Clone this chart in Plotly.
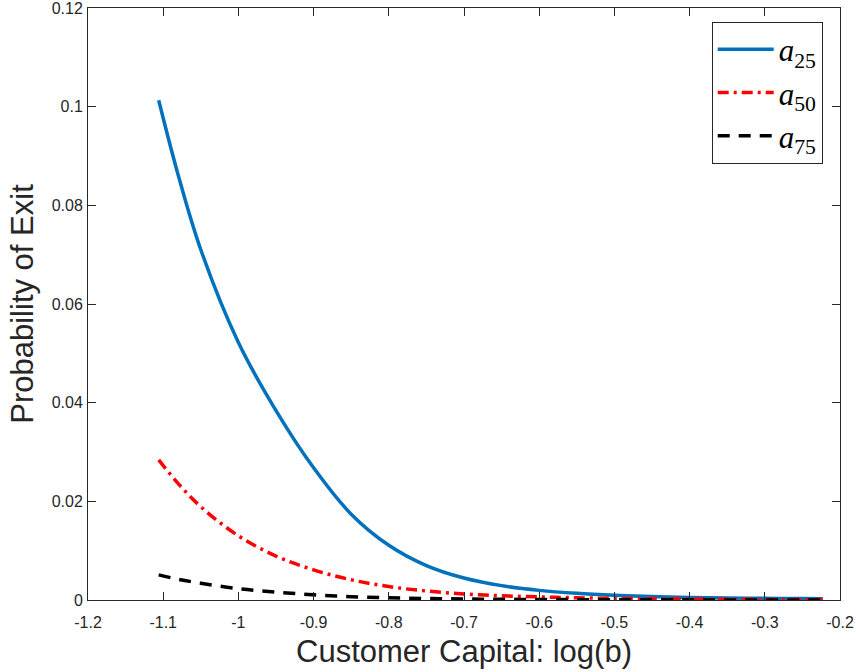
import plotly.graph_objects as go

# Customer capital grid (log b) and exit probabilities for each productivity level
log_b = [-1.106, -1.08, -1.05, -1.0, -0.95, -0.9, -0.85, -0.8, -0.75, -0.7,
         -0.65, -0.6, -0.55, -0.5, -0.45, -0.4, -0.35, -0.3, -0.25, -0.223]

exit_a25 = [0.1013, 0.0861, 0.0710, 0.0522, 0.0384, 0.0268, 0.0174, 0.0111, 0.00698, 0.00445,
            0.00291, 0.00195, 0.00135, 0.00096, 0.00070, 0.00053, 0.00041, 0.00033, 0.00028, 0.00025]
exit_a50 = [0.0284, 0.0236, 0.0189, 0.0130, 0.0089, 0.0061, 0.0041, 0.00272, 0.00182, 0.00124,
            0.00087, 0.00062, 0.00045, 0.00033, 0.00025, 0.00019, 0.00015, 0.00012, 0.00010, 0.00009]
exit_a75 = [0.0051, 0.0042, 0.0034, 0.0023, 0.0016, 0.00105, 0.00068, 0.00045, 0.00030, 0.000205,
            0.000143, 0.00010, 0.00007, 0.00005, 0.00004, 0.00003, 0.00002, 0.00002, 0.00001, 0.00001]

x_ticks = [-1.2, -1.1, -1.0, -0.9, -0.8, -0.7, -0.6, -0.5, -0.4, -0.3, -0.2]
x_tick_text = ["-1.2", "-1.1", "-1", "-0.9", "-0.8", "-0.7", "-0.6", "-0.5", "-0.4", "-0.3", "-0.2"]
y_ticks = [0, 0.02, 0.04, 0.06, 0.08, 0.1, 0.12]
y_tick_text = ["0", "0.02", "0.04", "0.06", "0.08", "0.1", "0.12"]

AX = "#262626"
SANS = "Liberation Sans, Arial, Helvetica, sans-serif"
SERIF = "Liberation Serif, Times New Roman, serif"

fig = go.Figure()
fig.add_trace(go.Scatter(
    x=log_b, y=exit_a25, mode="lines", line_shape="spline",
    name="<i>a</i><sub>25</sub>", legendgroup="a25",
    line=dict(color="#0072BD", width=3.5)))
fig.add_trace(go.Scatter(
    x=log_b, y=exit_a50, mode="lines", line_shape="spline",
    name="<i>a</i><sub>50</sub>", legendgroup="a50",
    line=dict(color="#FF0000", width=3.5, dash="11px,5px,3px,5px")))
fig.add_trace(go.Scatter(
    x=log_b, y=exit_a75, mode="lines", line_shape="spline",
    name="<i>a</i><sub>75</sub>", legendgroup="a75",
    line=dict(color="#000000", width=3.5, dash="12px,9px")))

axis_common = dict(
    showgrid=False, zeroline=False, showline=True, linecolor=AX, linewidth=1,
    mirror="ticks", ticks="inside", ticklen=8, tickcolor=AX, tickwidth=1,
    tickfont=dict(family=SANS, size=16, color=AX), automargin=False,
    ticklabeloverflow="allow")

fig.update_layout(
    width=856, height=672,
    margin=dict(l=88, r=16, t=8, b=72),
    paper_bgcolor="white", plot_bgcolor="white",
    xaxis=dict(range=[-1.2, -0.2], tickmode="array", tickvals=x_ticks, ticktext=x_tick_text,
               ticklabelstandoff=8,
               title=dict(text="Customer Capital: log(b)", standoff=10,
                          font=dict(family=SANS, size=31, color=AX)),
               **axis_common),
    yaxis=dict(range=[0, 0.12], tickmode="array", tickvals=y_ticks, ticktext=y_tick_text,
               ticklabelstandoff=1,
               title=dict(text="Probability of Exit", standoff=8,
                          font=dict(family=SANS, size=31, color=AX)),
               **axis_common),
    legend=dict(x=0.977, y=0.977, xanchor="right", yanchor="top",
                bgcolor="white", bordercolor=AX, borderwidth=1,
                font=dict(family=SERIF, size=31, color="#000000"),
                itemwidth=56, tracegroupgap=0, traceorder="grouped"),
    showlegend=True,
)

fig.write_html("out.html")
